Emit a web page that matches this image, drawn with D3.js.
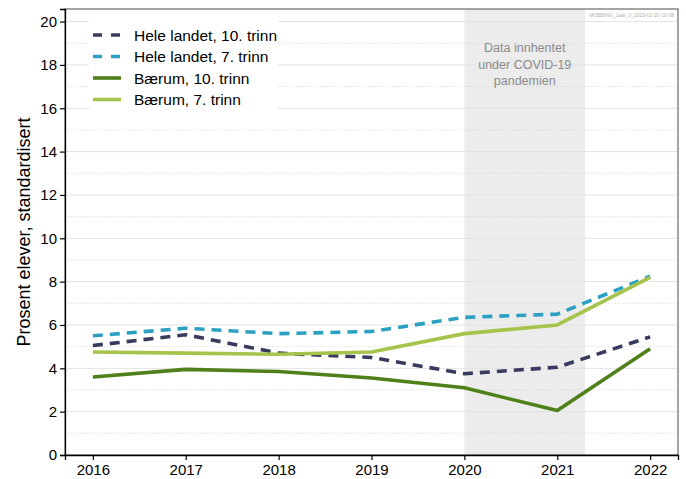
<!DOCTYPE html>
<html>
<head>
<meta charset="utf-8">
<script src="https://cdn.jsdelivr.net/npm/d3@7"></script>
<style>
  body { margin: 0; background: #fff; }
  svg { display: block; font-family: "Liberation Sans", Arial, sans-serif; }
</style>
</head>
<body>
<svg id="chart" width="686" height="479"></svg>
<script>
const years = [2016, 2017, 2018, 2019, 2020, 2021, 2022];
const heleLandet10 = [5.05, 5.55, 4.7, 4.5, 3.75, 4.05, 5.45];
const heleLandet7 = [5.5, 5.85, 5.6, 5.7, 6.35, 6.5, 8.25];
const baerum10 = [3.6, 3.95, 3.85, 3.55, 3.1, 2.05, 4.9];
const baerum7 = [4.75, 4.7, 4.65, 4.75, 5.6, 6.0, 8.2];
const seriesNames = ["Hele landet, 10. trinn", "Hele landet, 7. trinn", "Bærum, 10. trinn", "Bærum, 7. trinn"];
const yTicks = [0, 2, 4, 6, 8, 10, 12, 14, 16, 18, 20];
const covidSpan = [2020, 2021.3];
const covidText = ["Data innhentet", "under COVID-19", "pandemien"];

const series = [
    { name: seriesNames[0], values: heleLandet10, color: "#383a5e", dashed: true },
    { name: seriesNames[1], values: heleLandet7, color: "#2ca0c3", dashed: true },
    { name: seriesNames[2], values: baerum10, color: "#4f801a", dashed: false },
    { name: seriesNames[3], values: baerum7, color: "#a6c34b", dashed: false }
];

const svg = d3.select("#chart");
const pLeft = 65, pRight = 678, pTop = 9, pBottom = 455;

const x = d3.scaleLinear().domain([2015.7, 2022.3]).range([pLeft, pRight]);
const y = d3.scaleLinear().domain([0, 20.58]).range([pBottom, pTop]);

// covid shade
svg.append("rect")
    .attr("x", x(covidSpan[0]))
    .attr("y", pTop)
    .attr("width", x(covidSpan[1]) - x(covidSpan[0]))
    .attr("height", pBottom - pTop)
    .style("fill", "#ececec");

// grid
const minor = d3.range(1, 21, 2);
svg.append("g").selectAll("line")
    .data(minor)
    .join("line")
    .attr("x1", pLeft).attr("x2", pRight)
    .attr("y1", d => y(d)).attr("y2", d => y(d))
    .style("stroke", "#d6d6d6")
    .style("stroke-width", 0.7)
    .style("stroke-dasharray", "1.5,1.5");

svg.append("g").selectAll("line")
    .data(yTicks.slice(1))
    .join("line")
    .attr("x1", pLeft).attr("x2", pRight)
    .attr("y1", d => y(d)).attr("y2", d => y(d))
    .style("stroke", "#e2e2e2")
    .style("stroke-width", 1);

// covid text
const ct = svg.append("text")
    .attr("x", x((covidSpan[0] + covidSpan[1]) / 2))
    .attr("y", 52)
    .attr("text-anchor", "middle")
    .style("font-size", "12.5px")
    .style("fill", "#8a8a8a");
covidText.forEach((t, i) => {
    ct.append("tspan")
        .attr("x", x((covidSpan[0] + covidSpan[1]) / 2))
        .attr("dy", i === 0 ? 0 : 16.5)
        .text(t);
});

// lines
const line = d3.line()
    .x((d, i) => x(years[i]))
    .y(d => y(d));

svg.append("g").selectAll("path")
    .data(series)
    .join("path")
    .attr("d", d => line(d.values))
    .style("fill", "none")
    .style("stroke", d => d.color)
    .style("stroke-width", 3.6)
    .style("stroke-linejoin", "round")
    .style("stroke-dasharray", d => d.dashed ? "10,7" : null);

// frame
svg.append("rect")
    .attr("x", pLeft).attr("y", pTop)
    .attr("width", pRight - pLeft).attr("height", pBottom - pTop)
    .style("fill", "none")
    .style("stroke", "#4d4d4d")
    .style("stroke-width", 1);

// axes
const xAxis = svg.append("g")
    .attr("transform", `translate(0,${pBottom})`)
    .call(d3.axisBottom(x).tickValues(years).tickFormat(d3.format("d")).tickSizeOuter(0).tickSize(5).tickPadding(4));
const yAxis = svg.append("g")
    .attr("transform", `translate(${pLeft},0)`)
    .call(d3.axisLeft(y).tickValues(yTicks).tickSizeOuter(0).tickSize(5).tickPadding(3));

[xAxis, yAxis].forEach(a => {
    a.select(".domain").style("stroke", "#000").style("stroke-width", 1.3);
    a.selectAll(".tick line").style("stroke", "#000").style("stroke-width", 1.2);
    a.selectAll(".tick text")
        .style("font-family", "'Liberation Sans', Arial, sans-serif")
        .style("font-size", "15px")
        .style("fill", "#000");
});

svg.append("text")
    .attr("transform", `translate(30,${(pTop + pBottom) / 2}) rotate(-90)`)
    .attr("text-anchor", "middle")
    .style("font-size", "18px")
    .style("fill", "#000")
    .text("Prosent elever, standardisert");

// legend
const legend = svg.append("g");
legend.append("rect")
    .attr("x", 89).attr("y", 16)
    .attr("width", 189).attr("height", 100)
    .style("fill", "#fff");

const rows = legend.selectAll("g.row")
    .data(series)
    .join("g")
    .attr("class", "row")
    .attr("transform", (d, i) => `translate(0,${35 + i * 21.5})`);

rows.append("line")
    .attr("x1", 93).attr("x2", 121)
    .attr("y1", 0).attr("y2", 0)
    .style("stroke", d => d.color)
    .style("stroke-width", 3.6)
    .style("stroke-dasharray", d => d.dashed ? "9,9" : null);

rows.append("text")
    .attr("x", 134)
    .attr("y", 0)
    .attr("dy", "0.36em")
    .style("font-size", "15.5px")
    .style("fill", "#000")
    .text(d => d.name);

// watermark
svg.append("text")
    .attr("x", 674).attr("y", 17)
    .attr("text-anchor", "end")
    .style("font-size", "5px")
    .style("fill", "#b0b0b0")
    .text("MOBBING_1aar_0_2023-02-20-10-38");
</script>
</body>
</html>
